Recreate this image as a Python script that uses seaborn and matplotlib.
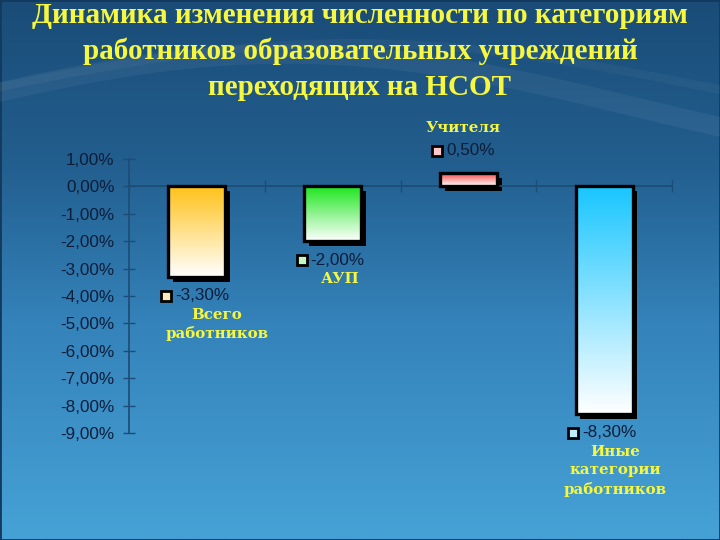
import numpy as np
import pandas as pd
import matplotlib
matplotlib.use("Agg")
import matplotlib.pyplot as plt
import matplotlib.patheffects as pe
import matplotlib.transforms as mtransforms
from matplotlib.colors import LinearSegmentedColormap
from matplotlib.patches import Rectangle
import seaborn as sns

# chart data
categories = ["Всего\nработников", "АУП", "Учителя", "Иные\nкатегории\nработников"]
changes = [-3.3, -2.0, 0.5, -8.3]
bar_colors = ["#ffc21a", "#1ee61e", "#ff3a3a", "#19c6ff"]
key_colors = ["#ffe9b8", "#c9f5c0", "#ffc8c8", "#c0ecff"]
y_ticks = [1, 0, -1, -2, -3, -4, -5, -6, -7, -8, -9]
title = ("Динамика изменения численности по категориям\n"
         "работников образовательных учреждений\n"
         "переходящих на НСОТ")

# styling
PX = 0.72  # pixels -> points at dpi 100
label_dx = [20, 8, -5, 11]
axis_col = "#1d4d76"
num_col = "#0c1d3a"
yellow = "#f7f73f"

sns.set_theme(style="white")
plt.rcParams["font.family"] = ["Liberation Sans", "DejaVu Sans"]

fig = plt.figure(figsize=(7.2, 5.4), dpi=100)

# background gradient
bg = fig.add_axes([0, 0, 1, 1], zorder=0)
bg_cmap = LinearSegmentedColormap.from_list(
    "bg", [(0, "#1a4c77"), (0.3, "#225e8e"), (0.6, "#3483ba"), (1, "#46a2d6")])
bg.imshow(np.linspace(0, 1, 256).reshape(-1, 1), aspect="auto", cmap=bg_cmap,
          extent=[0, 1, 0, 1], origin="upper")
xs = np.linspace(0, 1, 200)
bg.plot(xs, 0.80 + 0.10 * np.sin(xs * 3.2 + 0.3), color="white", alpha=0.05, lw=14)
bg.plot(xs, 0.83 + 0.09 * np.sin(xs * 3.0 + 0.1), color="white", alpha=0.04, lw=6)
bg.add_patch(Rectangle((0, 0), 1, 1, fill=False, ec="#123a5e", lw=2))
bg.set_xlim(0, 1)
bg.set_ylim(0, 1)
bg.axis("off")

fig.text(0.5, 0.997, title, ha="center", va="top", fontsize=21,
         family="Liberation Serif", weight="bold", color=yellow, linespacing=1.42)

ax = fig.add_axes([129 / 720, 107 / 540, 543 / 720, 274 / 540], zorder=1)
ax.patch.set_alpha(0)

df = pd.DataFrame({"cat": categories, "val": changes})
sns.barplot(data=df, x="cat", y="val", hue="cat", palette=bar_colors,
            width=0.42, legend=False, ax=ax, zorder=2)

grad = np.linspace(0, 1, 128).reshape(-1, 1)
for i, p in enumerate(ax.patches):
    x0, w = p.get_x(), p.get_width()
    y0, h = p.get_y(), p.get_height()
    lo, hi = min(y0, y0 + h), max(y0, y0 + h)
    p.set_edgecolor("none")
    p.set_path_effects([pe.SimplePatchShadow(offset=(3.5, -3.5), shadow_rgbFace="black", alpha=1),
                        pe.Normal()])
    cmap = LinearSegmentedColormap.from_list(f"b{i}", [bar_colors[i], "#ffffff"])
    im = ax.imshow(grad, extent=[x0, x0 + w, lo, hi], cmap=cmap, aspect="auto",
                   origin="upper", zorder=3)
    im.set_clip_path(p)
    ax.add_patch(Rectangle((x0, lo), w, hi - lo, fill=False, ec="black", lw=2.4, zorder=4))

ax.set_xlim(-0.5, len(categories) - 0.5)
ax.set_ylim(-9, 1)

# axes styling
for s in ["top", "right"]:
    ax.spines[s].set_visible(False)
ax.spines["left"].set_color(axis_col)
ax.spines["bottom"].set_color(axis_col)
ax.spines["bottom"].set_position(("data", 0))
ax.set_xticks(np.arange(-0.5, len(categories), 1.0))
ax.set_xticklabels([])
ax.set_yticks(y_ticks)
ax.set_yticklabels([f"{v:.2f}%".replace(".", ",") for v in y_ticks],
                   fontsize=12.3, color=num_col)
ax.tick_params(axis="both", direction="inout", length=9, width=1, color=axis_col,
               left=True, bottom=True)
ax.tick_params(axis="y", pad=6)
ax.set_xlabel("")
ax.set_ylabel("")

# value labels with legend keys and category names
for i, v in enumerate(changes):
    dy = 22 if v > 0 else -19
    ax.annotate(f"{v:.2f}%".replace(".", ","), xy=(i, v), xytext=(-22 * PX, dy * PX),
                textcoords="offset points", ha="left", va="center",
                fontsize=12.3, color=num_col, annotation_clip=False)
    trans = mtransforms.offset_copy(ax.transData, fig=fig, x=-31 * PX, y=dy * PX,
                                    units="points")
    ax.plot(i, v, marker="s", ms=6.5, mfc=key_colors[i], mec="black", mew=2,
            transform=trans, clip_on=False, zorder=5)
    if v > 0:
        ax.annotate(categories[i], xy=(i, v), xytext=(label_dx[i] * PX, 38 * PX),
                    textcoords="offset points", ha="center", va="bottom",
                    fontsize=10.8, family="DejaVu Serif", weight="bold", color=yellow,
                    linespacing=1.38, annotation_clip=False)
    else:
        ax.annotate(categories[i], xy=(i, v), xytext=(label_dx[i] * PX, -31 * PX),
                    textcoords="offset points", ha="center", va="top",
                    fontsize=10.8, family="DejaVu Serif", weight="bold", color=yellow,
                    linespacing=1.38, annotation_clip=False)

fig.savefig("out.png", dpi=100)
